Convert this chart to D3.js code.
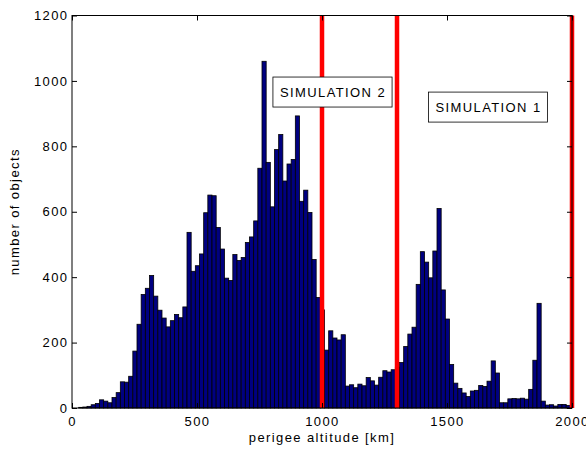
<!DOCTYPE html>
<html>
<head>
<meta charset="utf-8">
<script src="https://cdn.jsdelivr.net/npm/d3@7"></script>
<style>
  html, body { margin: 0; padding: 0; background: #fff; }
  svg { display: block; }
  text { font-family: "Liberation Sans", Arial, Helvetica, sans-serif; fill: #000; }
</style>
</head>
<body>
<svg id="chart" width="586" height="450"></svg>
<script>
// Histogram of catalogued objects by perigee altitude (bins of 2000/120 km starting at 10 km)
const binStartKm = 10;
const binWidthKm = 2000 / 120;
const counts = [
  0, 2, 3, 5, 10, 14, 25, 21, 16, 32,
  47, 80, 79, 97, 174, 256, 347, 366, 405, 342,
  299, 275, 248, 267, 286, 276, 309, 537, 418, 435,
  471, 597, 651, 649, 552, 486, 397, 390, 469, 451,
  460, 506, 523, 572, 733, 1060, 751, 615, 790, 836,
  694, 746, 760, 893, 632, 666, 598, 454, 338, 300,
  177, 236, 214, 208, 224, 67, 71, 62, 73, 68,
  93, 83, 70, 94, 114, 110, 117, 125, 139, 188,
  226, 247, 378, 478, 446, 398, 480, 610, 361, 272,
  133, 76, 60, 46, 35, 52, 54, 69, 66, 82,
  144, 107, 16, 16, 28, 29, 28, 30, 27, 57,
  146, 320, 21, 9, 10, 6, 11, 11, 8
];

// Altitude limits of the two simulation ranges
const simulationBounds = [1000, 1300, 2000];
const simulationNames = ["SIMULATION 2", "SIMULATION 1"];

const xTicks = [0, 500, 1000, 1500, 2000];
const yTicks = [0, 200, 400, 600, 800, 1000, 1200];
const xTitle = "perigee altitude [km]";
const yTitle = "number of objects";

const svg = d3.select("#chart");
const plot = { left: 72, right: 572, top: 15.5, bottom: 408 };

const x = d3.scaleLinear().domain([0, 2000]).range([plot.left, plot.right]);
const y = d3.scaleLinear().domain([0, 1200]).range([plot.bottom, plot.top]);

const bins = counts.map((c, i) => ({
  x0: binStartKm + i * binWidthKm,
  x1: binStartKm + (i + 1) * binWidthKm,
  count: c
}));

// bars
svg.append("g")
  .selectAll("rect")
  .data(bins)
  .join("rect")
  .attr("x", d => x(d.x0))
  .attr("width", d => x(d.x1) - x(d.x0))
  .attr("y", d => y(d.count))
  .attr("height", d => y(0) - y(d.count))
  .attr("fill", "#000080")
  .attr("stroke", "#000")
  .attr("stroke-width", 0.8);

// simulation range boundaries
svg.append("g")
  .selectAll("line")
  .data(simulationBounds)
  .join("line")
  .attr("x1", d => x(d)).attr("x2", d => x(d))
  .attr("y1", y(0)).attr("y2", y(1200))
  .attr("stroke", "#ff0000")
  .attr("stroke-width", 4.5);

// axes box with inward ticks on all four sides
const tickLen = 5;
const fontSize = 13;
const letterSp = 1.4;
const plain = d3.format("d");

const axesG = svg.append("g");
axesG.append("rect")
  .attr("x", plot.left).attr("y", plot.top)
  .attr("width", plot.right - plot.left).attr("height", plot.bottom - plot.top)
  .attr("fill", "none").attr("stroke", "#000").attr("stroke-width", 1);

const bottomAxis = d3.axisBottom(x).tickValues(xTicks).tickFormat(plain)
  .tickSizeInner(-tickLen).tickSizeOuter(0).tickPadding(9);
const leftAxis = d3.axisLeft(y).tickValues(yTicks).tickFormat(plain)
  .tickSizeInner(-tickLen).tickSizeOuter(0).tickPadding(3.6);
const topAxis = d3.axisTop(x).tickValues(xTicks).tickSizeInner(-tickLen).tickSizeOuter(0).tickFormat("");
const rightAxis = d3.axisRight(y).tickValues(yTicks).tickSizeInner(-tickLen).tickSizeOuter(0).tickFormat("");

function styleAxis(g) {
  g.select(".domain").remove();
  g.selectAll(".tick line").attr("stroke", "#000");
  g.selectAll(".tick text")
    .attr("font-family", "Liberation Sans, Arial, sans-serif")
    .attr("font-size", fontSize)
    .attr("letter-spacing", letterSp)
    .attr("fill", "#000");
}

axesG.append("g").attr("transform", `translate(0,${plot.bottom})`).call(bottomAxis).call(styleAxis);
axesG.append("g").attr("transform", `translate(${plot.left},0)`).call(leftAxis).call(styleAxis);
axesG.append("g").attr("transform", `translate(0,${plot.top})`).call(topAxis).call(styleAxis);
axesG.append("g").attr("transform", `translate(${plot.right},0)`).call(rightAxis).call(styleAxis);

// axis titles
svg.append("text")
  .attr("x", (plot.left + plot.right) / 2)
  .attr("y", 442)
  .attr("text-anchor", "middle")
  .attr("font-size", fontSize)
  .attr("letter-spacing", letterSp)
  .text(xTitle);

svg.append("text")
  .attr("transform", `translate(19,${(plot.top + plot.bottom) / 2}) rotate(-90)`)
  .attr("text-anchor", "middle")
  .attr("font-size", fontSize)
  .attr("letter-spacing", letterSp)
  .text(yTitle);

// boxed labels naming each simulation range (anchored in data units)
const labelAnchors = [
  { name: simulationNames[0], km: 1044, value: 966 },
  { name: simulationNames[1], km: 1666, value: 920 }
];
labelAnchors.forEach(a => {
  const g = svg.append("g");
  const t = g.append("text")
    .attr("x", x(a.km))
    .attr("y", y(a.value) + 5)
    .attr("text-anchor", "middle")
    .attr("font-size", fontSize)
    .attr("letter-spacing", letterSp)
    .text(a.name);
  const bb = t.node().getBBox();
  g.insert("rect", "text")
    .attr("x", bb.x - 7)
    .attr("y", y(a.value) - 15)
    .attr("width", bb.width + 13)
    .attr("height", 30)
    .attr("fill", "#fff")
    .attr("stroke", "#000")
    .attr("stroke-width", 0.8);
});
</script>
</body>
</html>
